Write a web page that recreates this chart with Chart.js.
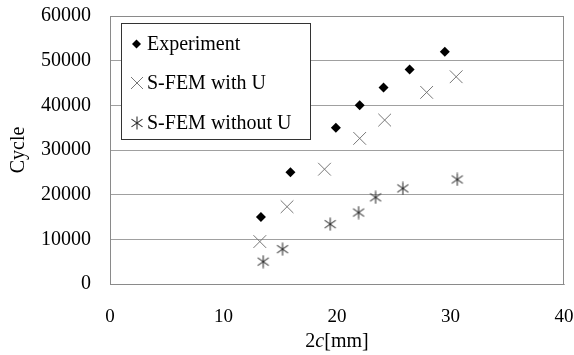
<!DOCTYPE html>
<html>
<head>
<meta charset="utf-8">
<script src="https://cdn.jsdelivr.net/npm/chart.js@4/dist/chart.umd.min.js"></script>
<style>
  html, body { margin: 0; padding: 0; background: #fff; }
  #wrap { width: 574px; height: 355px; position: relative; }
</style>
</head>
<body>
<div id="wrap"><canvas id="chartCanvas" width="574" height="355"></canvas></div>
<script>
// values
const expX = [13.3, 15.9, 19.9, 22.0, 24.1, 26.4, 29.5];
const expY = [15000, 25000, 35000, 40000, 44000, 48000, 52000];
const withUX = [13.2, 15.6, 18.9, 22.0, 24.2, 27.9, 30.5];
const withUY = [9500, 17300, 25700, 32600, 36700, 42900, 46400];
const withoutUX = [13.5, 15.2, 19.4, 21.9, 23.4, 25.8, 30.6];
const withoutUY = [5000, 7800, 13400, 16000, 19400, 21400, 23400];
const seriesLabels = ['Experiment', 'S-FEM with U', 'S-FEM without U'];
const xTicks = [0, 10, 20, 30, 40];
const yTicks = [0, 10000, 20000, 30000, 40000, 50000, 60000];

const SERIF = '"Liberation Serif", "Times New Roman", serif';

function toPoints(xs, ys) {
    return xs.map((x, i) => ({ x: x, y: ys[i] }));
}

// six-armed asterisk marker
function drawAsterisk(ctx, cx, cy, r) {
    ctx.save();
    ctx.strokeStyle = '#333';
    ctx.lineWidth = 1.1;
    ctx.beginPath();
    ctx.moveTo(cx, cy - r); ctx.lineTo(cx, cy + r);
    const d = r * 0.85;
    ctx.moveTo(cx - d, cy - d * 0.7); ctx.lineTo(cx + d, cy + d * 0.7);
    ctx.moveTo(cx - d, cy + d * 0.7); ctx.lineTo(cx + d, cy - d * 0.7);
    ctx.stroke();
    ctx.restore();
}

function drawDiamond(ctx, cx, cy, r) {
    ctx.save();
    ctx.fillStyle = '#000';
    ctx.beginPath();
    ctx.moveTo(cx, cy - r); ctx.lineTo(cx + r, cy);
    ctx.lineTo(cx, cy + r); ctx.lineTo(cx - r, cy);
    ctx.closePath();
    ctx.fill();
    ctx.restore();
}

function drawX(ctx, cx, cy, h) {
    ctx.save();
    ctx.strokeStyle = '#777';
    ctx.lineWidth = 1;
    ctx.beginPath();
    ctx.moveTo(cx - h, cy - h); ctx.lineTo(cx + h, cy + h);
    ctx.moveTo(cx - h, cy + h); ctx.lineTo(cx + h, cy - h);
    ctx.stroke();
    ctx.restore();
}

const starImg = document.createElement('canvas');
starImg.width = 14; starImg.height = 14;
drawAsterisk(starImg.getContext('2d'), 7, 7, 6.5);

const framePlugin = {
    id: 'frame',
    afterDraw(chart) {
        const ctx = chart.ctx;
        const a = chart.chartArea;
        ctx.save();
        // plot box
        ctx.strokeStyle = '#8a8a8a';
        ctx.lineWidth = 1;
        ctx.strokeRect(a.left + 0.5, a.top + 0.5, a.right - a.left - 1, a.bottom - a.top);

        // legend
        const lx = 121, ly = 23, lw = 189, lh = 116;
        ctx.fillStyle = '#fff';
        ctx.fillRect(lx, ly, lw, lh);
        ctx.strokeStyle = '#333';
        ctx.strokeRect(lx + 0.5, ly + 0.5, lw, lh);
        const rows = [44, 83, 123];
        drawDiamond(ctx, 136.5, rows[0], 4.5);
        drawX(ctx, 137, rows[1], 6);
        drawAsterisk(ctx, 137, rows[2], 6.5);
        ctx.fillStyle = '#000';
        ctx.font = '20px ' + SERIF;
        ctx.textBaseline = 'middle';
        ctx.textAlign = 'left';
        seriesLabels.forEach((t, i) => ctx.fillText(t, 147, rows[i] + 1));

        // axis titles
        ctx.textAlign = 'center';
        ctx.font = '20px ' + SERIF;
        ctx.save();
        ctx.translate(19, (a.top + a.bottom) / 2);
        ctx.rotate(-Math.PI / 2);
        ctx.fillText('Cycle', 0, 0);
        ctx.restore();

        const y = 342;
        ctx.textAlign = 'left';
        const p1 = '2', p2 = 'c', p3 = '[mm]';
        ctx.font = '20px ' + SERIF;
        const w1 = ctx.measureText(p1).width, w3 = ctx.measureText(p3).width;
        ctx.font = 'italic 20px ' + SERIF;
        const w2 = ctx.measureText(p2).width;
        let x = (a.left + a.right) / 2 - (w1 + w2 + w3) / 2;
        ctx.font = '20px ' + SERIF;
        ctx.fillText(p1, x, y); x += w1;
        ctx.font = 'italic 20px ' + SERIF;
        ctx.fillText(p2, x, y); x += w2;
        ctx.font = '20px ' + SERIF;
        ctx.fillText(p3, x, y);
        ctx.restore();
    }
};

const ctx = document.getElementById('chartCanvas').getContext('2d');
new Chart(ctx, {
    type: 'scatter',
    data: {
        datasets: [
            {
                label: seriesLabels[0],
                data: toPoints(expX, expY),
                pointStyle: 'rectRot',
                pointRadius: 5,
                pointHoverRadius: 5,
                backgroundColor: '#000',
                borderColor: '#000',
                borderWidth: 0
            },
            {
                label: seriesLabels[1],
                data: toPoints(withUX, withUY),
                pointStyle: 'crossRot',
                pointRadius: 9,
                pointHoverRadius: 9,
                borderColor: '#777',
                borderWidth: 1
            },
            {
                label: seriesLabels[2],
                data: toPoints(withoutUX, withoutUY),
                pointStyle: starImg,
                pointRadius: 7,
                borderColor: '#333',
                borderWidth: 1
            }
        ]
    },
    options: {
        responsive: false,
        animation: false,
        devicePixelRatio: 1,
        layout: { padding: { left: 0, top: 16, right: 7, bottom: 0 } },
        plugins: {
            legend: { display: false },
            tooltip: { enabled: false }
        },
        scales: {
            x: {
                type: 'linear',
                min: 0, max: 40,
                afterBuildTicks(scale) { scale.ticks = xTicks.map(v => ({ value: v })); },
                afterFit(scale) { scale.height = 71; scale.paddingRight = 0; scale.paddingLeft = 0; },
                grid: { display: false, drawTicks: false },
                border: { display: true, color: '#b0b0b0', width: 1 },
                ticks: {
                    color: '#000',
                    font: { family: SERIF, size: 19 },
                    padding: 22,
                    maxRotation: 0
                }
            },
            y: {
                type: 'linear',
                min: 0, max: 60000,
                afterBuildTicks(scale) { scale.ticks = yTicks.map(v => ({ value: v })); },
                afterFit(scale) { scale.width = 110; scale.paddingTop = 0; scale.paddingBottom = 0; },
                grid: { color: '#a0a0a0', drawTicks: false, lineWidth: 1 },
                border: { display: true, color: '#8a8a8a', width: 1 },
                ticks: {
                    color: '#000',
                    font: { family: SERIF, size: 20 },
                    padding: 19,
                    callback: v => String(v)
                }
            }
        }
    },
    plugins: [framePlugin]
});
</script>
</body>
</html>
